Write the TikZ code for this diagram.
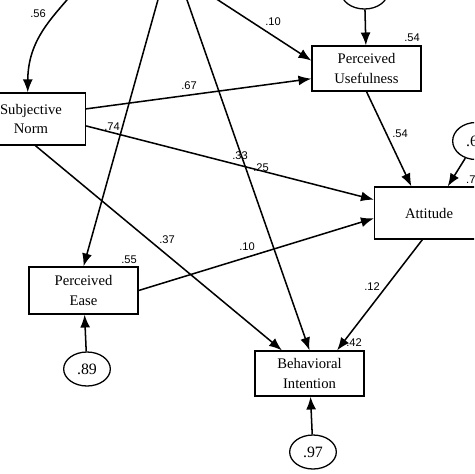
\documentclass[tikz,border=0pt]{standalone}
\usepackage{fontspec}
\setmainfont{Liberation Serif}
\newfontfamily\coeffont{Liberation Sans}
\usetikzlibrary{arrows.meta,calc,shapes.geometric}

\tikzset{
  var/.style={draw, line width=1.1pt, minimum width=3.27cm, align=center,
    inner sep=0pt, font=\fontsize{12.5}{17}\selectfont},
  err/.style={draw, ellipse, line width=1.1pt, minimum width=1.4cm,
    minimum height=1.02cm, inner sep=0pt, font=\fontsize{13.5}{15}\selectfont},
  effect/.style={line width=1.3pt, -{Latex[length=11pt,width=8.5pt]}},
  coef/.style={inner sep=0pt, font=\coeffont\fontsize{9.5}{10}\selectfont}
}

\begin{document}
\begin{tikzpicture}[x=0.03cm, y=-0.03cm]

% Frame
\useasboundingbox (0,0) rectangle (474,474);
\clip (0,0) rectangle (474,474);

% Observed variables
\node[var, minimum height=1.56cm] (sn) at (31,119) {Subjective\\Norm};
\node[var, minimum height=1.35cm] (pu) at (366.5,68.5) {Perceived\\Usefulness};
\node[var, minimum height=1.41cm] (pe) at (83.5,290.5) {Perceived\\Ease};
\node[var, minimum height=1.56cm] (att) at (429,213) {Attitude};
\node[var, minimum height=1.35cm] (bi) at (309.5,373.5) {Behavioral\\Intention};

% Error terms
\node[err] (epu) at (364.5,-8) {};
\node[err, minimum height=1.11cm] (eatt) at (476,141) {.6\phantom{0}};
\node[err] (epe) at (87,369) {.89};
\node[err] (ebi) at (313,452) {.97};

% Sources above the frame
\coordinate (src1) at (72,-6);
\coordinate (src2) at (160.7,-10);
\coordinate (src3) at (183.5,-10);
\coordinate (src4) at (202.6,-10);

% Paths
\draw[effect] (src1) .. controls (52,18) and (28,40) .. ($(sn.north west)!0.47!(sn.north east)$);
\draw[effect] (src2) -- (pe.north);
\draw[effect] (src3) -- (bi.north);
\draw[effect] (src4) -- ($(pu.north west)!0.33!(pu.south west)$);
\draw[effect] (epu) -- (pu);
\draw[effect] ($(sn.north east)!0.31!(sn.south east)$) -- ($(pu.north west)!0.72!(pu.south west)$);
\draw[effect] ($(sn.north east)!0.63!(sn.south east)$) -- ($(att.north west)!0.25!(att.south west)$);
\draw[effect] ($(sn.south west)!0.54!(sn.south east)$) -- ($(bi.north west)!0.25!(bi.north east)$);
\draw[effect] (pe.east) -- ($(att.north west)!0.6!(att.south west)$);
\draw[effect] (pu.south) -- ($(att.north west)!0.34!(att.north east)$);
\draw[effect] (eatt) -- ($(att.north west)!0.67!(att.north east)$);
\draw[effect] ($(att.south west)!0.44!(att.south east)$) -- ($(bi.north west)!0.75!(bi.north east)$);
\draw[effect] (epe) -- (pe);
\draw[effect] (ebi) -- (bi);

% Coefficients
\node[coef] (c56) at (38,14) {.56};
\node[coef] (c10a) at (273,22) {.10};
\node[coef] (r54) at (412,38) {.54};
\node[coef] (c67) at (189,86) {.67};
\node[coef] (c74) at (112,127) {.74};
\node[coef] (c33) at (240,156) {.33};
\node[coef] (c25) at (261,168) {.25};
\node[coef] (c54) at (400,134) {.54};
\node[coef, anchor=west] (r7) at (466,180) {.7};
\node[coef] (c37) at (167,240) {.37};
\node[coef] (c10b) at (247,247) {.10};
\node[coef] (r55) at (129,260) {.55};
\node[coef] (c12) at (372,287) {.12};
\node[coef] (r42) at (354,343) {.42};

\end{tikzpicture}
\end{document}
